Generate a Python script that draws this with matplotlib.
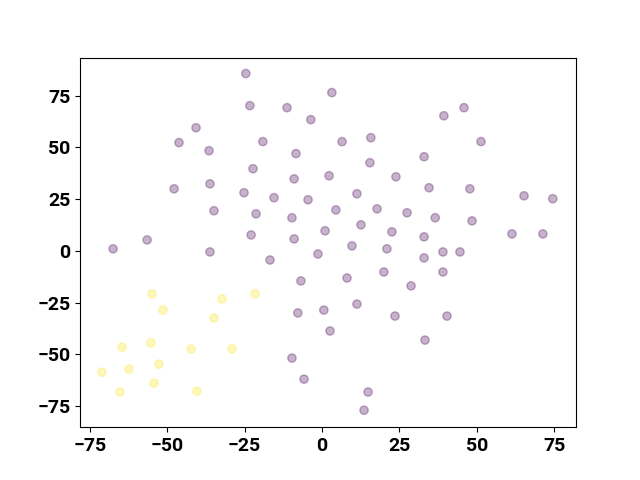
import numpy as np
import matplotlib
matplotlib.use('Agg')
import matplotlib.pyplot as plt

# === 2-D embedding ===
x_a = [-24.6, -23.3, 3.2, -11.3, -3.6, 45.9, 39.4, -40.7, -46.2, -36.5,
       -19.1, -8.4, 6.5, 15.8, 51.4, 15.5, 33.0, -22.3, -47.8, -36.2,
       -25.2, 2.3, 23.9, -9.0, -34.9, -15.5, -4.5, 11.3, 34.6, 47.8,
       65.3, 74.6, -21.3, -9.7, 4.5, 17.8, 27.5, 36.6, 48.5, -22.9,
       -9.0, 1.0, 12.6, 22.6, 33.0, 61.4, 71.4, -67.5, -56.5, -36.2,
       -16.8, -1.3, 9.7, 21.0, 39.1, 44.6, -6.8, 8.1, 20.0, 33.0,
       28.8, 39.1, -7.8, 0.6, 11.3, 23.6, 40.4, 2.6, 33.3, -9.7,
       -5.8, 14.9, 13.6]
y_a = [85.7, 70.2, 76.5, 69.2, 63.4, 69.2, 65.3, 59.5, 52.3, 48.4,
       52.8, 47.0, 52.8, 54.7, 52.8, 42.6, 45.5, 39.7, 30.0, 32.4,
       28.1, 36.3, 35.8, 34.8, 19.4, 25.7, 24.7, 27.6, 30.5, 30.0,
       26.6, 25.2, 17.9, 16.0, 19.8, 20.3, 18.4, 16.0, 14.5, 7.7,
       5.8, 9.7, 12.6, 9.2, 6.8, 8.2, 8.2, 1.0, 5.3, -0.5,
       -4.4, -1.5, 2.4, 1.0, -0.5, -0.5, -14.5, -13.1, -10.2, -3.4,
       -16.9, -10.2, -30.0, -28.6, -25.7, -31.5, -31.5, -38.7, -43.1, -51.8,
       -62.0, -68.2, -77.0]

x_b = [-54.9, -51.4, -32.3, -34.9, -21.6, -55.3, -64.6, -42.3, -29.1,
       -71.1, -62.4, -52.7, -54.3, -65.3, -40.4]
y_b = [-20.8, -28.6, -23.2, -32.4, -20.8, -44.5, -46.5, -47.4, -47.4,
       -58.6, -57.1, -54.7, -63.9, -68.2, -67.8]

x = np.array(x_a + x_b)
y = np.array(y_a + y_b)
labels = np.array([0] * len(x_a) + [1] * len(x_b))

plt.rcParams['font.family'] = ['Roboto', 'DejaVu Sans']
plt.rcParams['font.weight'] = 'bold'

fig, ax = plt.subplots(figsize=(6.4, 4.8), dpi=100)
ax.scatter(x, y, c=labels, cmap='viridis', alpha=0.3)
ax.set_xlim(-78.2, 82.1)
ax.set_ylim(-85.2, 93.4)
ax.set_xticks([-75, -50, -25, 0, 25, 50, 75])
ax.set_yticks([-75, -50, -25, 0, 25, 50, 75])
ax.tick_params(labelsize=14)
for lab in ax.get_xticklabels() + ax.get_yticklabels():
    lab.set_fontweight('bold')

fig.savefig('out.png', dpi=100)
